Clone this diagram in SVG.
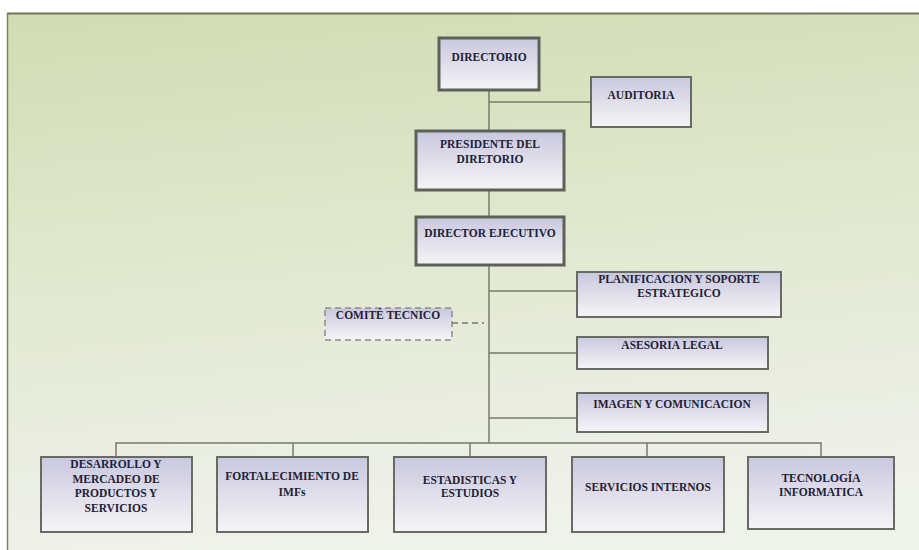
<svg xmlns="http://www.w3.org/2000/svg" width="919" height="550" viewBox="0 0 919 550">
<defs>
<linearGradient id="bg" x1="0" y1="0" x2="0.15" y2="1">
<stop offset="0" stop-color="#d1dcb3"/>
<stop offset="0.5" stop-color="#e2e8d0"/>
<stop offset="1" stop-color="#eff1eb"/>
</linearGradient>
<linearGradient id="box" x1="0" y1="0" x2="0" y2="1">
<stop offset="0" stop-color="#c9c7df"/>
<stop offset="0.6" stop-color="#e4e3ed"/>
<stop offset="1" stop-color="#f5f5f7"/>
</linearGradient>
<style>
.ln{stroke:#767b68;stroke-width:1.5;fill:none}
.dash{stroke:#767b68;stroke-width:1.5;fill:none;stroke-dasharray:6 4}
.bx{fill:url(#box);stroke:#686b63;stroke-width:2}
.bxm{fill:url(#box);stroke:#5e615a;stroke-width:3}
.bxd{fill:url(#box);stroke:#8a8d86;stroke-width:1.5;stroke-dasharray:6 4}
text{font-family:"Liberation Serif","Times New Roman",serif;font-weight:bold;font-size:11.5px;fill:#222136;text-anchor:middle}
</style>
</defs>
<rect x="0" y="0" width="919" height="550" fill="#ffffff"/>
<rect x="7" y="13" width="912" height="537" fill="url(#bg)"/>
<line x1="7" y1="13.5" x2="919" y2="13.5" stroke="#6d7654" stroke-width="2"/>
<line x1="7.5" y1="13" x2="7.5" y2="550" stroke="#7a8262" stroke-width="1.5"/>
<g id="connectors">
<line class="ln" x1="489" y1="90" x2="489" y2="443"/>
<line class="ln" x1="489" y1="102" x2="591" y2="102"/>
<line class="ln" x1="489" y1="291" x2="577" y2="291"/>
<line class="ln" x1="489" y1="353" x2="577" y2="353"/>
<line class="ln" x1="489" y1="418" x2="577" y2="418"/>
<line class="dash" x1="452" y1="323" x2="484" y2="323"/>
<polyline class="ln" points="116,457 116,443 821,443 821,457"/>
<line class="ln" x1="293" y1="443" x2="293" y2="457"/>
<line class="ln" x1="470" y1="443" x2="470" y2="457"/>
<line class="ln" x1="647" y1="443" x2="647" y2="457"/>
</g>
<g id="directorio"><rect class="bxm" x="439" y="38" width="100" height="52"/><text x="489" y="61">DIRECTORIO</text></g>
<g id="auditoria"><rect class="bx" x="591" y="77" width="100" height="50"/><text x="641" y="99">AUDITORIA</text></g>
<g id="presidente"><rect class="bxm" x="416" y="131" width="148" height="59"/><text x="490" y="148">PRESIDENTE DEL</text><text x="490" y="163">DIRETORIO</text></g>
<g id="director"><rect class="bxm" x="416" y="217" width="148" height="48"/><text x="490" y="237">DIRECTOR EJECUTIVO</text></g>
<g id="planificacion"><rect class="bx" x="577" y="272" width="204" height="45"/><text x="679" y="283">PLANIFICACION Y SOPORTE</text><text x="679" y="297">ESTRATEGICO</text></g>
<g id="comite"><rect class="bxd" x="325" y="308" width="127" height="32"/><text x="388" y="319">COMITÉ TECNICO</text></g>
<g id="asesoria"><rect class="bx" x="577" y="337" width="191" height="32"/><text x="672" y="349">ASESORIA LEGAL</text></g>
<g id="imagen"><rect class="bx" x="577" y="393" width="191" height="39"/><text x="672" y="408">IMAGEN Y COMUNICACION</text></g>
<g id="desarrollo"><rect class="bx" x="41" y="457" width="151" height="75"/><text x="116" y="468">DESARROLLO Y</text><text x="116" y="483">MERCADEO DE</text><text x="116" y="497">PRODUCTOS Y</text><text x="116" y="512">SERVICIOS</text></g>
<g id="fortalecimiento"><rect class="bx" x="217" y="457" width="151" height="75"/><text x="292" y="480">FORTALECIMIENTO DE</text><text x="292" y="496">IMFs</text></g>
<g id="estadisticas"><rect class="bx" x="394" y="457" width="152" height="75"/><text x="470" y="484">ESTADISTICAS Y</text><text x="470" y="497">ESTUDIOS</text></g>
<g id="servicios"><rect class="bx" x="572" y="457" width="152" height="75"/><text x="648" y="491">SERVICIOS INTERNOS</text></g>
<g id="tecnologia"><rect class="bx" x="748" y="457" width="146" height="72"/><text x="821" y="482">TECNOLOGÍA</text><text x="821" y="496">INFORMATICA</text></g>
</svg>
